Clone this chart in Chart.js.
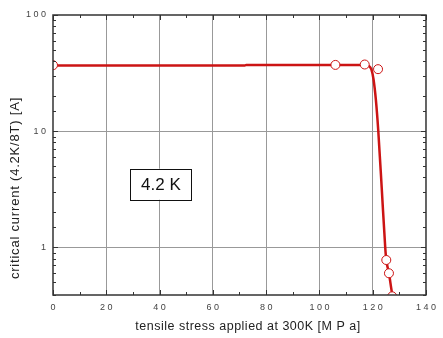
<!DOCTYPE html>
<html>
<head>
<meta charset="utf-8">
<script src="https://cdn.jsdelivr.net/npm/chart.js@4/dist/chart.umd.min.js"></script>
<style>
  html, body { margin: 0; padding: 0; background: #fff; }
  #wrap { width: 443px; height: 338px; }
</style>
</head>
<body>
<div id="wrap"><canvas id="c" width="443" height="338"></canvas></div>
<script>
// fitted curve (stress in MPa, Ic in A)
const curveStress = [0, 72, 72.5, 110, 117, 118.5, 119.5, 120.3, 121.2, 122.1, 123.4, 124.7, 125.1, 126.1, 127.3, 128];
const curveIc     = [36.8, 36.8, 37.2, 37.2, 37.2, 36.5, 34, 28, 18.5, 10, 3.2, 1.0, 0.78, 0.6, 0.4, 0.35];

// measured points
const measStress = [0, 106, 117, 122, 125.1, 126.1, 127.3];
const measIc     = [37, 37.2, 37.5, 34.2, 0.78, 0.6, 0.38];

const yLabelValues = [1, 10, 100];
const tempLabel = '4.2 K';
const xTitle = 'tensile stress applied at 300K [M P a]';
const yTitle = 'critical current (4.2K/8T) [A]';

const red = '#cc1414';
const FONT = '"Liberation Sans", Arial, sans-serif';

function toXY(xs, ys) {
  return xs.map((x, i) => ({ x: x, y: ys[i] }));
}

// frame with inward ticks on all four sides, titles and the temperature box
const framePlugin = {
  id: 'frame',
  afterDatasetsDraw(chart) {
    const { ctx, chartArea: a, scales } = chart;
    ctx.save();
    ctx.strokeStyle = '#333';
    ctx.lineWidth = 1;
    scales.x.ticks.forEach(t => {
      const px = Math.round(scales.x.getPixelForValue(t.value)) + 0.5;
      const len = t.value % 20 === 0 ? 5 : 3;
      ctx.beginPath();
      ctx.moveTo(px, a.bottom); ctx.lineTo(px, a.bottom - len);
      ctx.moveTo(px, a.top); ctx.lineTo(px, a.top + len);
      ctx.stroke();
    });
    scales.y.ticks.forEach(t => {
      const py = Math.round(scales.y.getPixelForValue(t.value)) + 0.5;
      const len = yLabelValues.includes(t.value) ? 5 : 3;
      ctx.beginPath();
      ctx.moveTo(a.left, py); ctx.lineTo(a.left + len, py);
      ctx.moveTo(a.right, py); ctx.lineTo(a.right - len, py);
      ctx.stroke();
    });
    ctx.lineWidth = 1.5;
    ctx.strokeRect(a.left, a.top, a.right - a.left, a.bottom - a.top);

    // label box
    const cx = scales.x.getPixelForValue(40.5);
    const cy = scales.y.getPixelForValue(3.5);
    ctx.font = '17px ' + FONT;
    ctx.textAlign = 'center';
    ctx.textBaseline = 'middle';
    ctx.fillStyle = '#fff';
    ctx.fillRect(cx - 30.5, cy - 15.5, 61, 31);
    ctx.lineWidth = 1;
    ctx.strokeStyle = '#111';
    ctx.strokeRect(Math.round(cx - 30.5) + 0.5, Math.round(cy - 15.5) + 0.5, 61, 31);
    ctx.fillStyle = '#111';
    ctx.fillText(tempLabel, cx, cy + 1);

    // axis titles
    ctx.fillStyle = '#222';
    ctx.font = '12.5px ' + FONT;
    ctx.letterSpacing = '0.5px';
    ctx.fillText(xTitle, 248, 327);
    ctx.save();
    ctx.translate(15, 188);
    ctx.rotate(-Math.PI / 2);
    ctx.font = '13px ' + FONT;
    ctx.letterSpacing = '0.8px';
    ctx.fillText(yTitle, 0, 0);
    ctx.restore();
    ctx.restore();
  }
};

new Chart(document.getElementById('c'), {
  type: 'scatter',
  data: {
    datasets: [
      {
        data: toXY(curveStress, curveIc),
        showLine: true,
        borderColor: red,
        borderWidth: 2.5,
        pointRadius: 0,
        cubicInterpolationMode: 'monotone',
        clip: 0,
        order: 2
      },
      {
        data: toXY(measStress, measIc),
        showLine: false,
        pointStyle: 'circle',
        pointRadius: 4.5,
        pointBackgroundColor: '#fff',
        pointBorderColor: red,
        pointBorderWidth: 1,
        clip: 0,
        order: 1
      }
    ]
  },
  options: {
    responsive: false,
    animation: false,
    events: [],
    layout: { padding: { top: 15, right: 9, left: 0, bottom: 0 } },
    plugins: { legend: { display: false }, tooltip: { enabled: false } },
    scales: {
      x: {
        type: 'linear',
        min: 0, max: 140,
        ticks: {
          stepSize: 10,
          autoSkip: false,
          maxRotation: 0,
          padding: 7,
          color: '#444',
          font: { family: FONT, size: 9 },
          callback: v => (v % 20 === 0 ? String(v).split('').join(' ') : '')
        },
        grid: {
          drawTicks: false,
          color: c => (c.tick && c.tick.value % 20 === 0 && c.tick.value > 0 && c.tick.value < 140) ? '#999' : 'rgba(0,0,0,0)',
          lineWidth: 1
        },
        border: { display: false },
        afterFit: s => { s.height = 43; }
      },
      y: {
        type: 'logarithmic',
        min: 0.39, max: 100,
        ticks: {
          autoSkip: false,
          padding: 7,
          color: '#444',
          font: { family: FONT, size: 9 },
          callback: v => (yLabelValues.includes(v) ? String(v).split('').join(' ') : '')
        },
        grid: {
          drawTicks: false,
          color: c => (c.tick && (c.tick.value === 1 || c.tick.value === 10)) ? '#999' : 'rgba(0,0,0,0)',
          lineWidth: 1
        },
        border: { display: false },
        afterFit: s => { s.width = 53; }
      }
    }
  },
  plugins: [framePlugin]
});
</script>
</body>
</html>
